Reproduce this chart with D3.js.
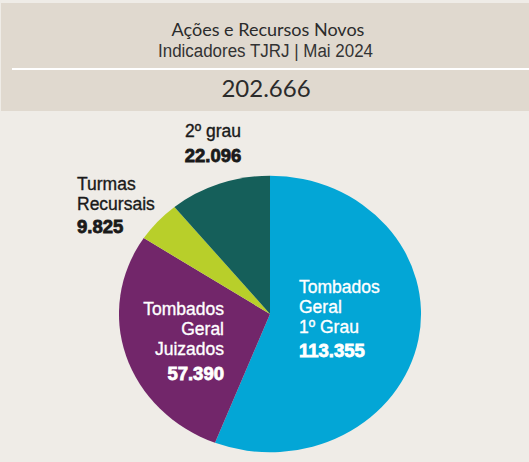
<!DOCTYPE html>
<html>
<head>
<meta charset="utf-8">
<script src="https://cdn.jsdelivr.net/npm/d3@7"></script>
<style>
  html, body { margin: 0; padding: 0; background: #efece7; }
  svg { display: block; }
</style>
</head>
<body>
<div id="chart"></div>
<script>
// data
const categories = ["Tombados Geral 1º Grau", "Tombados Geral Juizados", "Turmas Recursais", "2º grau"];
const values = [113355, 57390, 9825, 22096];
const labelLines = [["Tombados", "Geral", "1º Grau"], ["Tombados", "Geral", "Juizados"], ["Turmas", "Recursais"], ["2º grau"]];
const total = 202666;

const colors = ["#03a6d6", "#72266a", "#b8cf2a", "#155f5a"];

const width = 529;
const height = 462;

const svg = d3.select("#chart")
  .append("svg")
    .attr("width", width)
    .attr("height", height);

// background: header + body
svg.append("rect")
  .attr("x", 0).attr("y", 0)
  .attr("width", width).attr("height", height)
  .attr("fill", "#efece7");
svg.append("rect")
  .attr("x", 1).attr("y", 3)
  .attr("width", width - 1).attr("height", 108)
  .attr("fill", "#e0d9cf");
svg.append("line")
  .attr("x1", 12).attr("x2", width)
  .attr("y1", 69).attr("y2", 69)
  .attr("stroke", "#ffffff")
  .attr("stroke-width", 2);

svg.append("text")
  .attr("x", 268).attr("y", 36)
  .attr("text-anchor", "middle")
  .style("font-family", "Lato, sans-serif")
  .style("font-size", "18px")
  .attr("fill", "#2b2b2b")
  .text("Ações e Recursos Novos");

// condensed subtitle
svg.append("text")
  .attr("x", 158).attr("y", 57)
  .attr("textLength", 215)
  .attr("lengthAdjust", "spacingAndGlyphs")
  .style("font-family", "'Liberation Sans', Arial, sans-serif")
  .style("font-size", "18px")
  .attr("fill", "#333333")
  .text("Indicadores TJRJ | Mai 2024");

svg.append("text")
  .attr("x", 266).attr("y", 97)
  .attr("text-anchor", "middle")
  .style("font-family", "Lato, sans-serif")
  .style("font-size", "24px")
  .attr("fill", "#2b2b2b")
  .text(d3.format(",")(total).replace(/,/g, "."));

// pie (slightly stretched horizontally, like the original)
const cx = 270, cy = 314, radius = 138.3, stretch = 1.092;

const pie = d3.pie()
  .sort(null)
  .value(d => d);
const data_ready = pie(values);

const arcGenerator = d3.arc()
  .innerRadius(0)
  .outerRadius(radius);

const g = svg.append("g")
  .attr("transform", `translate(${cx}, ${cy}) scale(${stretch}, 1)`);

g.selectAll("path")
  .data(data_ready)
  .join("path")
    .attr("d", arcGenerator)
    .attr("fill", (d, i) => colors[i]);

// labels
const fmt = v => d3.format(",")(v).replace(/,/g, ".");
const labelFont = "'Liberation Sans', Arial, sans-serif";

// label layout: x, first baseline, anchor, text colour, gap before number
const labelLayout = [
  { x: 299, y: 293, anchor: "start", color: "#ffffff", numGap: 24 },
  { x: 224, y: 315, anchor: "end", color: "#ffffff", numGap: 25 },
  { x: 77, y: 190, anchor: "start", color: "#1a1a1a", numGap: 23 },
  { x: 213, y: 137, anchor: "middle", color: "#1a1a1a", numGap: 25 }
];

categories.forEach((c, i) => {
  const L = labelLayout[i];
  const t = svg.append("text")
    .attr("text-anchor", L.anchor)
    .attr("fill", L.color)
    .style("font-family", labelFont);
  labelLines[i].forEach((line, j) => {
    t.append("tspan")
      .attr("x", L.x)
      .attr("y", L.y + j * 20)
      .style("font-size", "17.5px")
      .attr("stroke", L.color)
      .attr("stroke-width", 0.35)
      .text(line);
  });
  t.append("tspan")
    .attr("x", L.x)
    .attr("y", L.y + (labelLines[i].length - 1) * 20 + L.numGap)
    .style("font-size", "18.5px")
    .style("font-weight", "bold")
    .attr("stroke", L.color)
    .attr("stroke-width", 0.8)
    .text(fmt(values[i]));
});
</script>
</body>
</html>
